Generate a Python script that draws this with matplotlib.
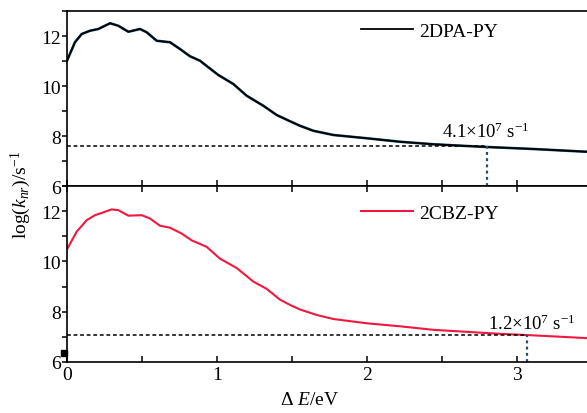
import matplotlib
matplotlib.use("Agg")
import matplotlib.pyplot as plt
from matplotlib.ticker import MultipleLocator

plt.rcParams['font.family'] = ['Liberation Serif', 'DejaVu Serif']
plt.rcParams['mathtext.fontset'] = 'custom'
plt.rcParams['mathtext.rm'] = 'Liberation Serif'
plt.rcParams['mathtext.it'] = 'Liberation Serif:italic'
plt.rcParams['mathtext.bf'] = 'Liberation Serif:bold'

# 2DPA-PY
x_dpa = [0.0, 0.053, 0.098, 0.153, 0.209, 0.287, 0.342, 0.409, 0.487, 0.531, 0.598,
         0.687, 0.753, 0.82, 0.887, 0.942, 1.009, 1.109, 1.198, 1.309, 1.398, 1.487,
         1.553, 1.642, 1.776, 1.998, 2.22, 2.442, 2.665, 2.80, 3.109, 3.465]
y_dpa = [11.01, 11.75, 12.08, 12.21, 12.28, 12.51, 12.41, 12.17, 12.28, 12.15, 11.81,
         11.75, 11.48, 11.19, 11.01, 10.75, 10.44, 10.08, 9.61, 9.21, 8.84, 8.59,
         8.41, 8.21, 8.04, 7.91, 7.77, 7.67, 7.60, 7.56, 7.48, 7.37]
# 2CBZ-PY
x_cbz = [0.0, 0.064, 0.131, 0.187, 0.242, 0.298, 0.342, 0.409, 0.498, 0.553, 0.62,
         0.687, 0.764, 0.831, 0.931, 1.02, 1.131, 1.242, 1.331, 1.42, 1.487, 1.553,
         1.665, 1.776, 1.998, 2.22, 2.442, 2.665, 2.887, 3.075, 3.465]
y_cbz = [10.48, 11.18, 11.64, 11.84, 11.95, 12.07, 12.04, 11.82, 11.84, 11.71, 11.42,
         11.34, 11.11, 10.84, 10.58, 10.11, 9.74, 9.20, 8.91, 8.48, 8.27, 8.09,
         7.87, 7.71, 7.54, 7.42, 7.28, 7.20, 7.12, 7.07, 6.95]

labels = ['2DPA-PY', '2CBZ-PY']
ref_x = [2.80, 3.07]
ref_y = [7.61, 7.08]
ref_text = [r'4.1$\times$10$^{7}$ s$^{\mathregular{-1}}$', r'1.2$\times$10$^{7}$ s$^{\mathregular{-1}}$']
text_pos = [(2.50, 7.95), (2.81, 7.31)]

fig = plt.figure(figsize=(5.87, 4.14), dpi=100)
W, H = 587, 414
ax1 = fig.add_axes([67 / W, 1 - 187 / H, 1 - 67 / W, 175 / H])
ax2 = fig.add_axes([67 / W, 1 - 363 / H, 1 - 67 / W, 176 / H])

ax1.plot(x_dpa, y_dpa, color='#1f5a78', lw=1.9, solid_joinstyle='round')
ax1.plot(x_dpa, y_dpa, color='black', lw=1.3, label=labels[0], solid_joinstyle='round')
ax2.plot(x_cbz, y_cbz, color='#f0183e', lw=1.5, label=labels[1], solid_joinstyle='round')

for i, ax in enumerate([ax1, ax2]):
    ax.set_xlim(0, 3.467)
    ax.set_ylim(6, 13)
    ax.plot([0, ref_x[i]], [ref_y[i], ref_y[i]], color='black', lw=1.1,
            linestyle=(0, (2.5, 1.8)))
    ax.plot([ref_x[i], ref_x[i]], [6, ref_y[i]], color='#1f4e6e', lw=1.6,
            linestyle=(0, (1.3, 1.5)))
    ax.text(text_pos[i][0], text_pos[i][1], ref_text[i], fontsize=13.5,
            ha='left', va='baseline')
    ax.spines['right'].set_visible(False)
    for s in ['left', 'top', 'bottom']:
        ax.spines[s].set_linewidth(1.2)
    ax.xaxis.set_major_locator(MultipleLocator(1))
    ax.xaxis.set_minor_locator(MultipleLocator(0.5))
    ax.yaxis.set_major_locator(MultipleLocator(2))
    ax.yaxis.set_minor_locator(MultipleLocator(1))
    ax.tick_params(axis='y', which='both', direction='out', length=3.5, width=1.1,
                   labelsize=14, pad=1, right=False)
    ax.tick_params(axis='x', which='both', direction='in', length=4.5, width=1.1,
                   labelsize=14, pad=3)
    leg = ax.legend(loc='center left', bbox_to_anchor=(0.565, [0.886, 0.845][i]),
                    frameon=False, fontsize=14, handlelength=2.7, handletextpad=0.3,
                    borderpad=0, borderaxespad=0)

ax1.tick_params(axis='x', which='both', top=False, bottom=True, labelbottom=False)
ax2.tick_params(axis='x', which='both', top=True, bottom=True)

ax2.plot([-0.022], [6.36], marker='s', color='black', markersize=4.2, clip_on=False,
         linestyle='none')

fig.text(310 / W, 1 - 405 / H, r'$\Delta$ $E$/eV', fontsize=14, ha='center', va='baseline')
fig.text(21 / W, 1 - 195 / H, r'log($k_{nr}$)/s$^{\mathregular{-1}}$', fontsize=14,
         rotation=90, ha='center', va='center')

fig.savefig('out.png', dpi=100)
